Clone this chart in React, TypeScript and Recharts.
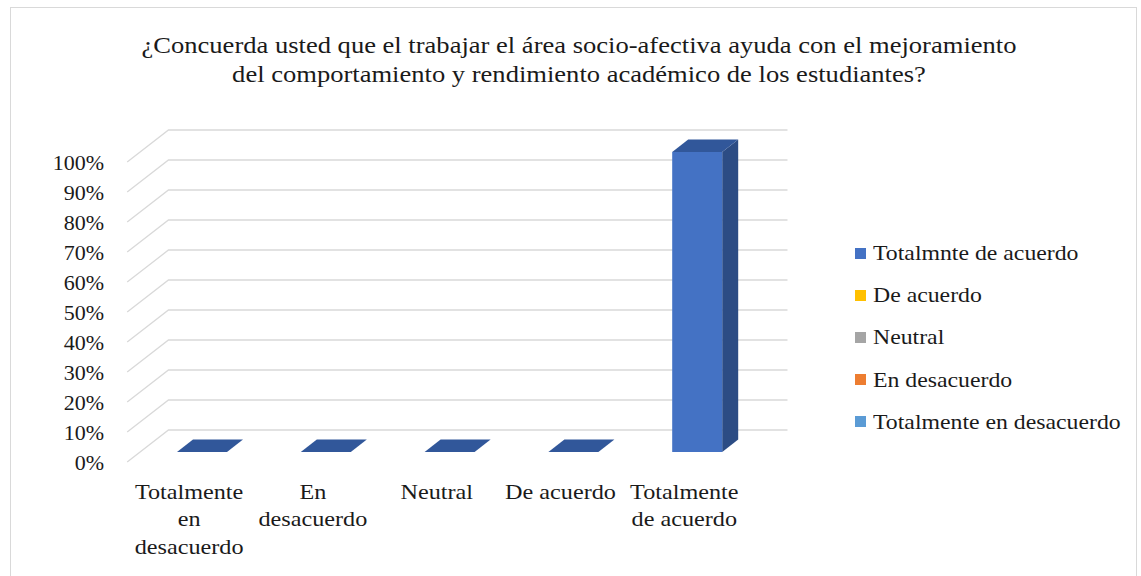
import React from 'react'
import { BarChart, Bar, XAxis, YAxis, CartesianGrid } from 'recharts'

const titleLines = [
    '¿Concuerda usted que el trabajar el área socio-afectiva ayuda con el mejoramiento',
    'del comportamiento y rendimiento académico de los estudiantes?',
]

const categories = [
    'Totalmente en desacuerdo',
    'En desacuerdo',
    'Neutral',
    'De acuerdo',
    'Totalmente de acuerdo',
]

// how each category label wraps under the axis
const categoryLines = [
    ['Totalmente', 'en', 'desacuerdo'],
    ['En', 'desacuerdo'],
    ['Neutral'],
    ['De acuerdo'],
    ['Totalmente', 'de acuerdo'],
]

const values = [0, 0, 0, 0, 1]

const yTicks = [0, 0.1, 0.2, 0.3, 0.4, 0.5, 0.6, 0.7, 0.8, 0.9, 1]

const legendLabels = [
    'Totalmnte de acuerdo',
    'De acuerdo',
    'Neutral',
    'En desacuerdo',
    'Totalmente en desacuerdo',
]
const legendColors = ['#4472C4', '#FFC000', '#A5A5A5', '#ED7D31', '#5B9BD5']

const data = categories.map((name, i) => ({ name, value: values[i] }))

const FONT = '"Liberation Serif", "Times New Roman", serif'
const TEXT = '#1a1a1a'
const GRID = '#d9d9d9'

// fake 3d: floor/wall offsets relative to the plane the bars stand in
const FRONT_DX = -12.8
const FRONT_DY = 10
const BACK_DX = 28.5
const BACK_DY = -22
const BAR_DX = 16
const BAR_DY = 12.5

function GridLine(p: any) {
    const d = `M${p.x1 + FRONT_DX},${p.y1 + FRONT_DY} L${p.x1 + BACK_DX},${p.y1 + BACK_DY} L${p.x2 + BACK_DX},${p.y1 + BACK_DY}`
    return <path key={p.key} d={d} fill="none" stroke={GRID} strokeWidth={1.3} />
}

function Bar3D(props: any) {
    const { x, y, width, height } = props
    const top = `M${x},${y} L${x + BAR_DX},${y - BAR_DY} L${x + width + BAR_DX},${y - BAR_DY} L${x + width},${y} Z`
    const side = `M${x + width},${y} L${x + width + BAR_DX},${y - BAR_DY} L${x + width + BAR_DX},${y + height - BAR_DY} L${x + width},${y + height} Z`
    return (
        <g>
            {height > 0 && <path d={side} fill="#2C4C84" />}
            {height > 0 && <rect x={x} y={y} width={width} height={height} fill="#4472C4" />}
            <path d={top} fill="#31579A" />
        </g>
    )
}

function YTick({ x, y, payload }: any) {
    return (
        <text
            x={x - 36}
            y={y + FRONT_DY}
            textAnchor="end"
            dominantBaseline="central"
            fontFamily={FONT}
            fontSize={22}
            fill={TEXT}
        >
            {`${Math.round(payload.value * 100)}%`}
        </text>
    )
}

function XTick({ x, y, payload, index }: any) {
    const lines = categoryLines[payload.index ?? index] || [payload.value]
    return (
        <g transform={`translate(${x + FRONT_DX},${y}) scale(1.1,1)`}>
            {lines.map((line, i) => (
                <text
                    key={i}
                    x={0}
                    y={39 + i * 27.5}
                    textAnchor="middle"
                    dominantBaseline="central"
                    fontFamily={FONT}
                    fontSize={22}
                    fill={TEXT}
                >
                    {line}
                </text>
            ))}
        </g>
    )
}

export default function App() {
    return (
        <div
            style={{
                position: 'absolute',
                left: 0,
                top: 0,
                width: 1141,
                height: 576,
                overflow: 'hidden',
                background: '#fff',
                fontFamily: FONT,
                color: TEXT,
            }}
        >
            <div
                style={{
                    position: 'absolute',
                    left: 10,
                    top: 7,
                    width: 1125,
                    height: 620,
                    border: `1.5px solid ${GRID}`,
                }}
            />
            {titleLines.map((line, i) => (
                <div
                    key={i}
                    style={{
                        position: 'absolute',
                        left: 0,
                        width: 1158,
                        top: 32 + i * 29,
                        textAlign: 'center',
                        fontSize: 22.5,
                        lineHeight: '28px',
                        whiteSpace: 'nowrap',
                        transform: 'scaleX(1.18)',
                        transformOrigin: '579px 0',
                    }}
                >
                    {line}
                </div>
            ))}
            <div style={{ position: 'absolute', left: 0, top: 0 }}>
                <BarChart
                    width={1141}
                    height={576}
                    data={data}
                    margin={{ top: 152, right: 382, bottom: 94, left: 40 }}
                    barSize={50}
                >
                    <CartesianGrid vertical={false} horizontal={GridLine} />
                    <XAxis
                        dataKey="name"
                        height={30}
                        axisLine={false}
                        tickLine={false}
                        tickSize={0}
                        tickMargin={0}
                        interval={0}
                        tick={<XTick />}
                    />
                    <YAxis
                        width={100}
                        domain={[0, 1]}
                        ticks={yTicks}
                        axisLine={false}
                        tickLine={false}
                        tickSize={0}
                        tickMargin={0}
                        tick={<YTick />}
                    />
                    <Bar dataKey="value" shape={<Bar3D />} isAnimationActive={false} />
                </BarChart>
            </div>
            <div style={{ position: 'absolute', left: 855, top: 232 }}>
                {legendLabels.map((label, i) => (
                    <div
                        key={label}
                        style={{ display: 'flex', alignItems: 'center', height: 42.2 }}
                    >
                        <span
                            style={{
                                width: 11,
                                height: 11,
                                background: legendColors[i],
                                marginRight: 7,
                                flex: 'none',
                            }}
                        />
                        <span
                            style={{
                                display: 'inline-block',
                                fontSize: 22,
                                lineHeight: '22px',
                                whiteSpace: 'nowrap',
                                transform: 'scaleX(1.08)',
                                transformOrigin: '0 50%',
                            }}
                        >
                            {label}
                        </span>
                    </div>
                ))}
            </div>
        </div>
    )
}
